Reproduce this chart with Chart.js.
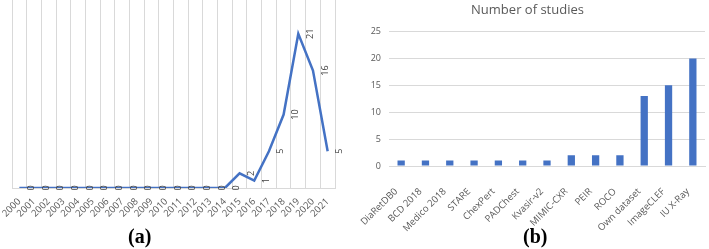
<!DOCTYPE html>
<html>
<head>
<meta charset="utf-8">
<script src="https://cdn.jsdelivr.net/npm/chart.js@4.4.1/dist/chart.umd.min.js"></script>
<style>
    html, body { margin: 0; padding: 0; background: #fff; }
    body { width: 709px; height: 249px; position: relative; overflow: hidden; }
    .panel { position: absolute; top: 0; height: 249px; }
    #left { left: 0; width: 350px; }
    #right { left: 350px; width: 359px; }
    .caption {
        position: absolute; top: 225px;
        font-family: "Liberation Serif", "DejaVu Serif", serif;
        font-weight: bold; font-size: 20px; color: #000;
    }
</style>
</head>
<body>
<div class="panel" id="left"><canvas id="yearChart"></canvas></div>
<div class="panel" id="right"><canvas id="datasetChart"></canvas></div>
<div class="caption" style="left:128px">(a)</div>
<div class="caption" style="left:523px">(b)</div>

<script>
const years = ['2000', '2001', '2002', '2003', '2004', '2005', '2006', '2007', '2008', '2009', '2010',
    '2011', '2012', '2013', '2014', '2015', '2016', '2017', '2018', '2019', '2020', '2021'];
const studiesPerYear = [0, 0, 0, 0, 0, 0, 0, 0, 0, 0, 0, 0, 0, 0, 0, 2, 1, 5, 10, 21, 16, 5];

const datasets = ['DiaRetDB0', 'BCD 2018', 'Medico 2018', 'STARE', 'ChexPert', 'PADChest', 'Kvasir-v2',
    'MIMIC-CXR', 'PEIR', 'ROCO', 'Own dataset', 'ImageCLEF', 'IU X-Ray'];
const studiesPerDataset = [1, 1, 1, 1, 1, 1, 1, 2, 2, 2, 13, 15, 20];

const blue = '#4472C4';
const textGrey = '#595959';
const font = '"Open Sans", "Noto Sans", sans-serif';

// vertical value labels, drawn to the right of each point
const verticalLabels = {
    id: 'verticalLabels',
    afterDatasetsDraw(chart) {
        const ctx = chart.ctx;
        const meta = chart.getDatasetMeta(0);
        ctx.save();
        ctx.fillStyle = '#404040';
        ctx.font = '9px ' + font;
        ctx.textAlign = 'center';
        ctx.textBaseline = 'middle';
        meta.data.forEach((pt, i) => {
            ctx.save();
            ctx.translate(pt.x + 12, pt.y);
            ctx.rotate(-Math.PI / 2);
            ctx.fillText(String(studiesPerYear[i]), 0, 0);
            ctx.restore();
        });
        ctx.restore();
    }
};

// keep the plot area where it is, whatever the rotated labels need
function fixBottomAxis(height) {
    return s => {
        s.height = height;
        s.paddingLeft = 0;
        s.paddingRight = 0;
    };
}

new Chart(document.getElementById('yearChart'), {
    type: 'line',
    data: {
        labels: years,
        datasets: [{
            data: studiesPerYear,
            borderColor: blue,
            borderWidth: 2.5,
            pointRadius: 0,
            tension: 0,
            fill: false
        }]
    },
    options: {
        responsive: true,
        maintainAspectRatio: false,
        animation: false,
        layout: { padding: { left: 12, right: 15, top: 0 } },
        plugins: { legend: { display: false }, tooltip: { enabled: false } },
        scales: {
            x: {
                offset: true,
                grid: { offset: true, color: '#d9d9d9', lineWidth: 1, drawTicks: false },
                border: { color: '#d9d9d9' },
                ticks: {
                    color: textGrey, font: { family: font, size: 9.5 },
                    maxRotation: 45, minRotation: 45, autoSkip: false, padding: 8
                },
                afterFit: fixBottomAxis(61)
            },
            y: {
                display: false,
                min: 0,
                max: 25.6
            }
        }
    },
    plugins: [verticalLabels]
});

new Chart(document.getElementById('datasetChart'), {
    type: 'bar',
    data: {
        labels: datasets,
        datasets: [{
            data: studiesPerDataset,
            backgroundColor: blue,
            barPercentage: 0.3,
            categoryPercentage: 1
        }]
    },
    options: {
        responsive: true,
        maintainAspectRatio: false,
        animation: false,
        layout: { padding: { left: 0, right: 4, top: 0 } },
        plugins: {
            legend: { display: false },
            tooltip: { enabled: false },
            title: {
                display: true,
                text: 'Number of studies',
                color: textGrey,
                font: { family: font, size: 13, weight: 'normal' },
                padding: { top: 2, bottom: 14 }
            }
        },
        scales: {
            x: {
                grid: { display: false },
                border: { color: '#d9d9d9' },
                ticks: {
                    color: textGrey, font: { family: font, size: 9.5 },
                    maxRotation: 45, minRotation: 45, autoSkip: false,
                    padding: 12, labelOffset: -5
                },
                afterFit: fixBottomAxis(83)
            },
            y: {
                min: 0,
                max: 25,
                grid: { color: '#d9d9d9', drawTicks: false },
                border: { display: false },
                ticks: {
                    stepSize: 5, color: textGrey, font: { family: font, size: 9 }, padding: 8
                },
                afterFit: s => { s.width = 39; }
            }
        }
    }
});
</script>
</body>
</html>
